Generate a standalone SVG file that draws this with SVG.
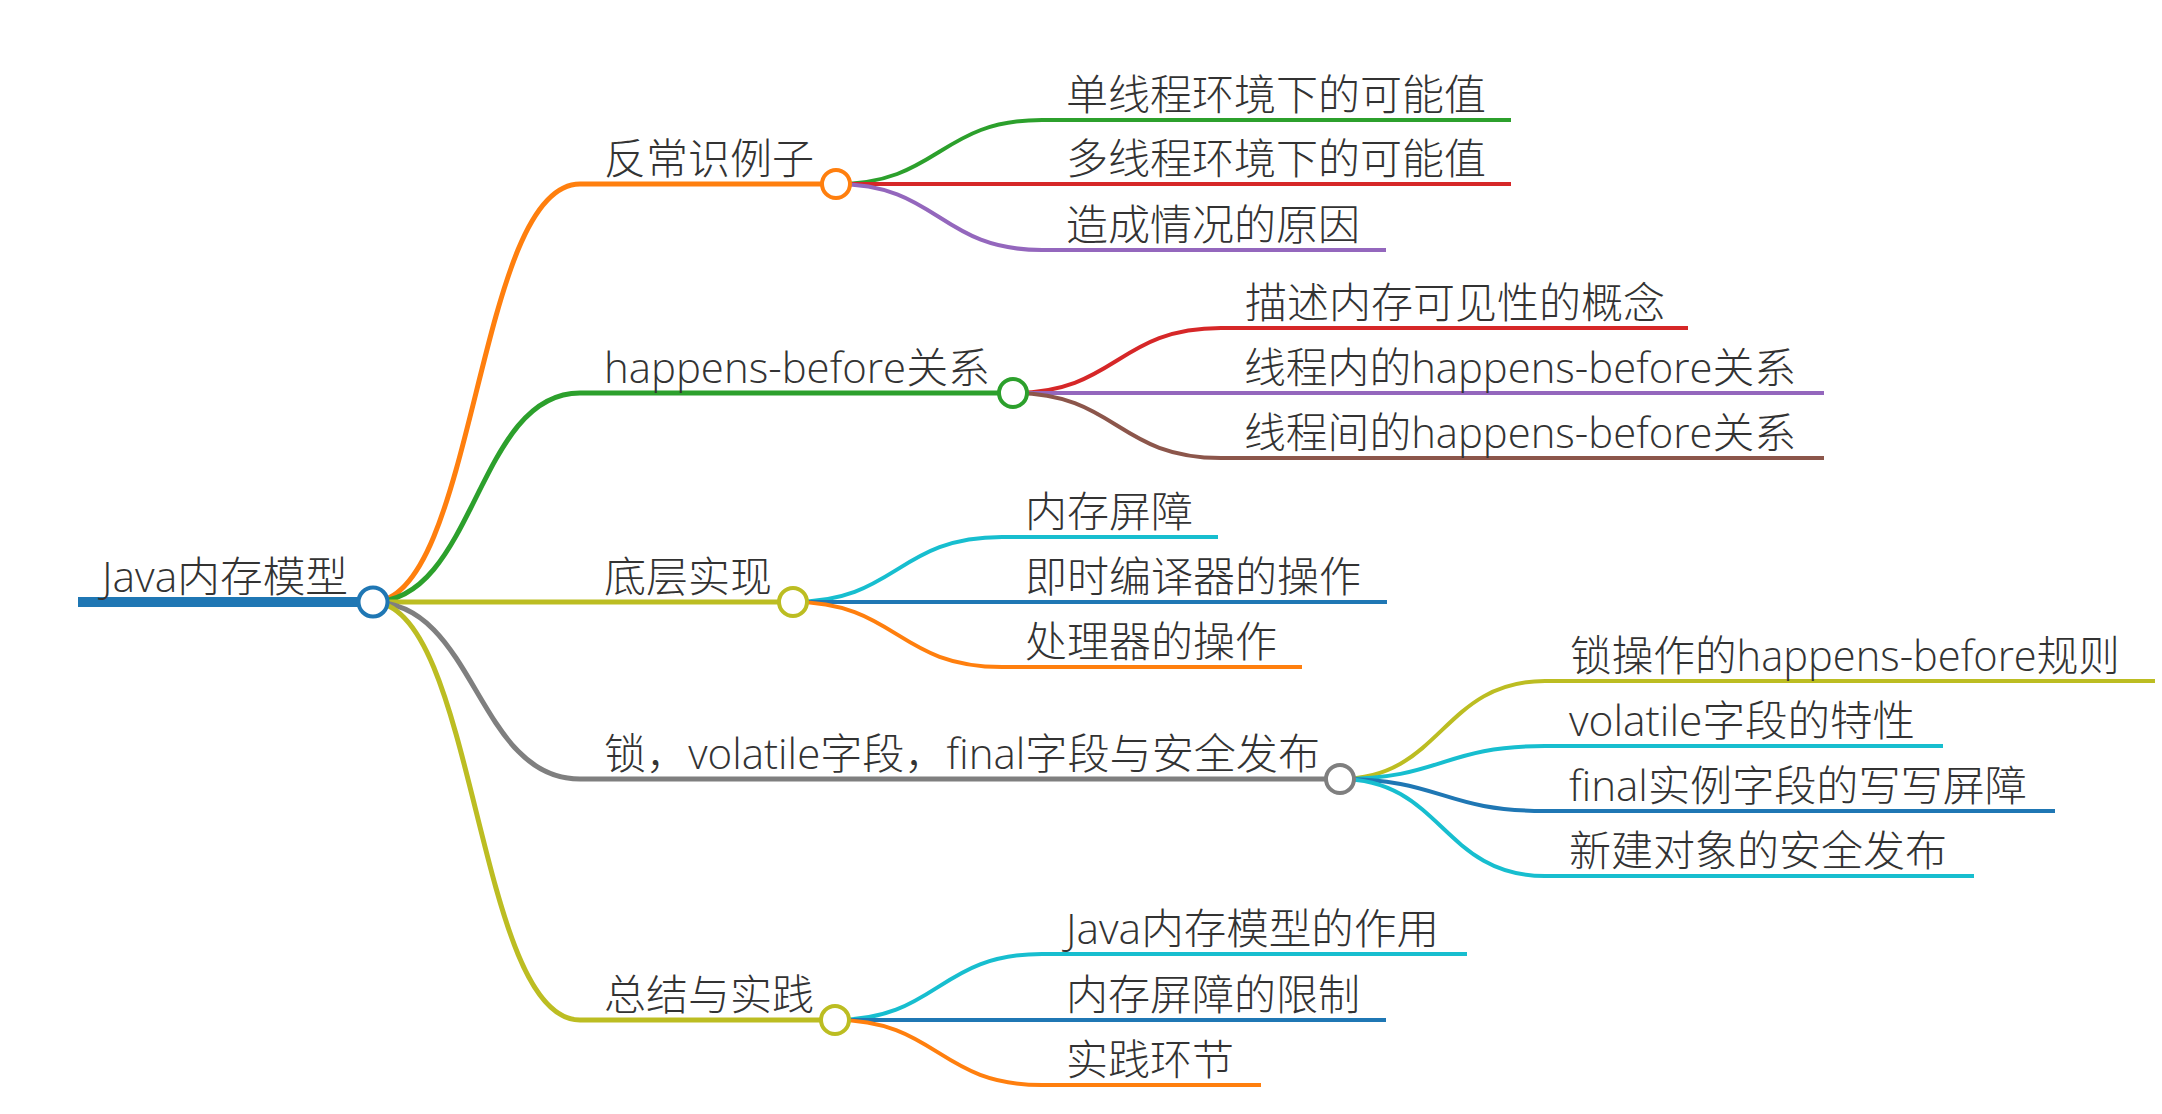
<svg xmlns="http://www.w3.org/2000/svg" width="2162" height="1114" viewBox="0 0 2162 1114">
<style>
  .t { font-family: "Open Sans", "Noto Sans CJK SC", "Noto Sans", sans-serif; font-size: 42px; fill: #333333; font-weight: 300; }
  .l1 { fill: none; stroke-width: 5; stroke-linecap: butt; }
  .l2 { fill: none; stroke-width: 4; stroke-linecap: butt; }
  .c { fill: #ffffff; stroke-width: 4; }
</style>
<rect width="2162" height="1114" fill="#ffffff"/>
<g id="connectors">
  <path d="M78,602 H372" fill="none" stroke="#1f77b4" stroke-width="10"/>
  <path class="l1" stroke="#ff7f0e" d="M372,602 C476,602 476,184 580,184 H836"/>
  <path class="l1" stroke="#2ca02c" d="M372,602 C476,602 476,393 580,393 H1013"/>
  <path class="l1" stroke="#bcbd22" d="M372,602 H793"/>
  <path class="l1" stroke="#7f7f7f" d="M372,602 C476,602 476,779 580,779 H1340"/>
  <path class="l1" stroke="#bcbd22" d="M372,602 C476,602 476,1020 580,1020 H835"/>

  <path class="l2" stroke="#2ca02c" d="M836,184 C939,184 939,120 1042,120 H1511"/>
  <path class="l2" stroke="#d62728" d="M836,184 H1511"/>
  <path class="l2" stroke="#9467bd" d="M836,184 C939,184 939,250 1042,250 H1386"/>

  <path class="l2" stroke="#d62728" d="M1013,393 C1117,393 1117,328 1221,328 H1688"/>
  <path class="l2" stroke="#9467bd" d="M1013,393 H1824"/>
  <path class="l2" stroke="#8c564b" d="M1013,393 C1117,393 1117,458 1221,458 H1824"/>

  <path class="l2" stroke="#17becf" d="M793,602 C897,602 897,537 1002,537 H1218"/>
  <path class="l2" stroke="#1f77b4" d="M793,602 H1387"/>
  <path class="l2" stroke="#ff7f0e" d="M793,602 C897,602 897,667 1002,667 H1302"/>

  <path class="l2" stroke="#bcbd22" d="M1340,779 C1442,779 1442,681 1545,681 H2155"/>
  <path class="l2" stroke="#17becf" d="M1340,779 C1442,779 1442,746 1545,746 H1943"/>
  <path class="l2" stroke="#1f77b4" d="M1340,779 C1442,779 1442,811 1545,811 H2055"/>
  <path class="l2" stroke="#17becf" d="M1340,779 C1442,779 1442,876 1545,876 H1974"/>

  <path class="l2" stroke="#17becf" d="M835,1020 C938,1020 938,954 1042,954 H1467"/>
  <path class="l2" stroke="#1f77b4" d="M835,1020 H1386"/>
  <path class="l2" stroke="#ff7f0e" d="M835,1020 C938,1020 938,1085 1042,1085 H1261"/>
</g>
<g id="node-root">
  <text class="t" x="102" y="592" textLength="246" lengthAdjust="spacingAndGlyphs">Java内存模型</text>
  <circle class="c" cx="373" cy="602" r="14.5" stroke="#1f77b4"/>
</g>
<g id="node-1">
  <text class="t" x="604" y="174">反常识例子</text>
  <circle class="c" cx="836" cy="184" r="14" stroke="#ff7f0e"/>
</g>
<g id="node-1a"><text class="t" x="1066" y="110">单线程环境下的可能值</text></g>
<g id="node-1b"><text class="t" x="1066" y="174">多线程环境下的可能值</text></g>
<g id="node-1c"><text class="t" x="1066" y="240">造成情况的原因</text></g>
<g id="node-2">
  <text class="t" x="604" y="383" textLength="386" lengthAdjust="spacingAndGlyphs">happens-before关系</text>
  <circle class="c" cx="1013" cy="393" r="14" stroke="#2ca02c"/>
</g>
<g id="node-2a"><text class="t" x="1245" y="318">描述内存可见性的概念</text></g>
<g id="node-2b"><text class="t" x="1244" y="383" textLength="552" lengthAdjust="spacingAndGlyphs">线程内的happens-before关系</text></g>
<g id="node-2c"><text class="t" x="1244" y="448" textLength="552" lengthAdjust="spacingAndGlyphs">线程间的happens-before关系</text></g>
<g id="node-3">
  <text class="t" x="604" y="592">底层实现</text>
  <circle class="c" cx="793" cy="602" r="14" stroke="#bcbd22"/>
</g>
<g id="node-3a"><text class="t" x="1025" y="527">内存屏障</text></g>
<g id="node-3b"><text class="t" x="1025" y="592">即时编译器的操作</text></g>
<g id="node-3c"><text class="t" x="1025" y="657">处理器的操作</text></g>
<g id="node-4">
  <text class="t" x="604" y="769" textLength="716" lengthAdjust="spacingAndGlyphs">锁，volatile字段，final字段与安全发布</text>
  <circle class="c" cx="1340" cy="779" r="14" stroke="#7f7f7f"/>
</g>
<g id="node-4a"><text class="t" x="1570" y="671" textLength="550" lengthAdjust="spacingAndGlyphs">锁操作的happens-before规则</text></g>
<g id="node-4b"><text class="t" x="1569" y="736" textLength="346" lengthAdjust="spacingAndGlyphs">volatile字段的特性</text></g>
<g id="node-4c"><text class="t" x="1569" y="801" textLength="458" lengthAdjust="spacingAndGlyphs">final实例字段的写写屏障</text></g>
<g id="node-4d"><text class="t" x="1569" y="866">新建对象的安全发布</text></g>
<g id="node-5">
  <text class="t" x="604" y="1010">总结与实践</text>
  <circle class="c" cx="835" cy="1020" r="14" stroke="#bcbd22"/>
</g>
<g id="node-5a"><text class="t" x="1066" y="944" textLength="373" lengthAdjust="spacingAndGlyphs">Java内存模型的作用</text></g>
<g id="node-5b"><text class="t" x="1066" y="1010">内存屏障的限制</text></g>
<g id="node-5c"><text class="t" x="1066" y="1075">实践环节</text></g>
</svg>
